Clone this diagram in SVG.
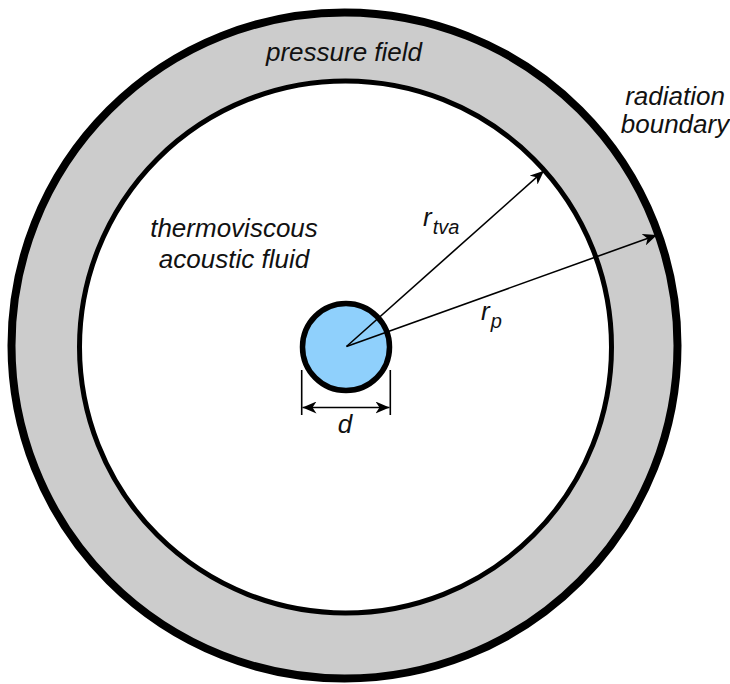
<svg xmlns="http://www.w3.org/2000/svg" width="730" height="684" viewBox="0 0 730 684">
<style>
.lbl{font-family:"Liberation Sans",Arial,sans-serif;font-style:italic;fill:#111;font-size:26px}
.sub{font-size:20px}
.ln{stroke:#000;stroke-width:1.6;fill:none}
</style>
<defs>
<marker id="ah" markerUnits="userSpaceOnUse" markerWidth="16" markerHeight="12" refX="14" refY="6" orient="auto-start-reverse" viewBox="0 0 16 12">
<path d="M0,0 L14,6 L0,12 L4,6 z" fill="#000"/>
</marker>
</defs>
<rect width="730" height="684" fill="#fff"/>
<g id="radiation-boundary">
<circle cx="344.5" cy="345.5" r="333" fill="#cccccc" stroke="#000" stroke-width="8"/>
</g>
<g id="thermoviscous-domain">
<circle cx="345.5" cy="347" r="266" fill="#fff" stroke="#000" stroke-width="5"/>
</g>
<g id="particle">
<circle cx="346" cy="347" r="43.5" fill="#8fd0fc" stroke="#000" stroke-width="5.5"/>
</g>
<g id="connectors">
<line class="ln" x1="346.5" y1="346.5" x2="544" y2="170.7" marker-end="url(#ah)"/>
<line class="ln" x1="346.5" y1="346.5" x2="657" y2="235" marker-end="url(#ah)"/>
<line class="ln" x1="301.7" y1="370" x2="301.7" y2="415"/>
<line class="ln" x1="390.3" y1="370" x2="390.3" y2="415"/>
<line class="ln" x1="302.5" y1="407.5" x2="389.5" y2="407.5" marker-start="url(#ah)" marker-end="url(#ah)"/>
</g>
<g id="labels">
<text class="lbl" x="344" y="61" text-anchor="middle">pressure field</text>
<text class="lbl" x="675" y="105" text-anchor="middle">radiation</text>
<text class="lbl" x="675" y="133" text-anchor="middle">boundary</text>
<text class="lbl" x="234" y="237" text-anchor="middle">thermoviscous</text>
<text class="lbl" x="234" y="268" text-anchor="middle">acoustic fluid</text>
<text class="lbl" x="423" y="226">r<tspan class="sub" dx="1" dy="8">tva</tspan></text>
<text class="lbl" x="481" y="320">r<tspan class="sub" dx="1" dy="8">p</tspan></text>
<text class="lbl" x="345" y="433" text-anchor="middle">d</text>
</g>
</svg>
